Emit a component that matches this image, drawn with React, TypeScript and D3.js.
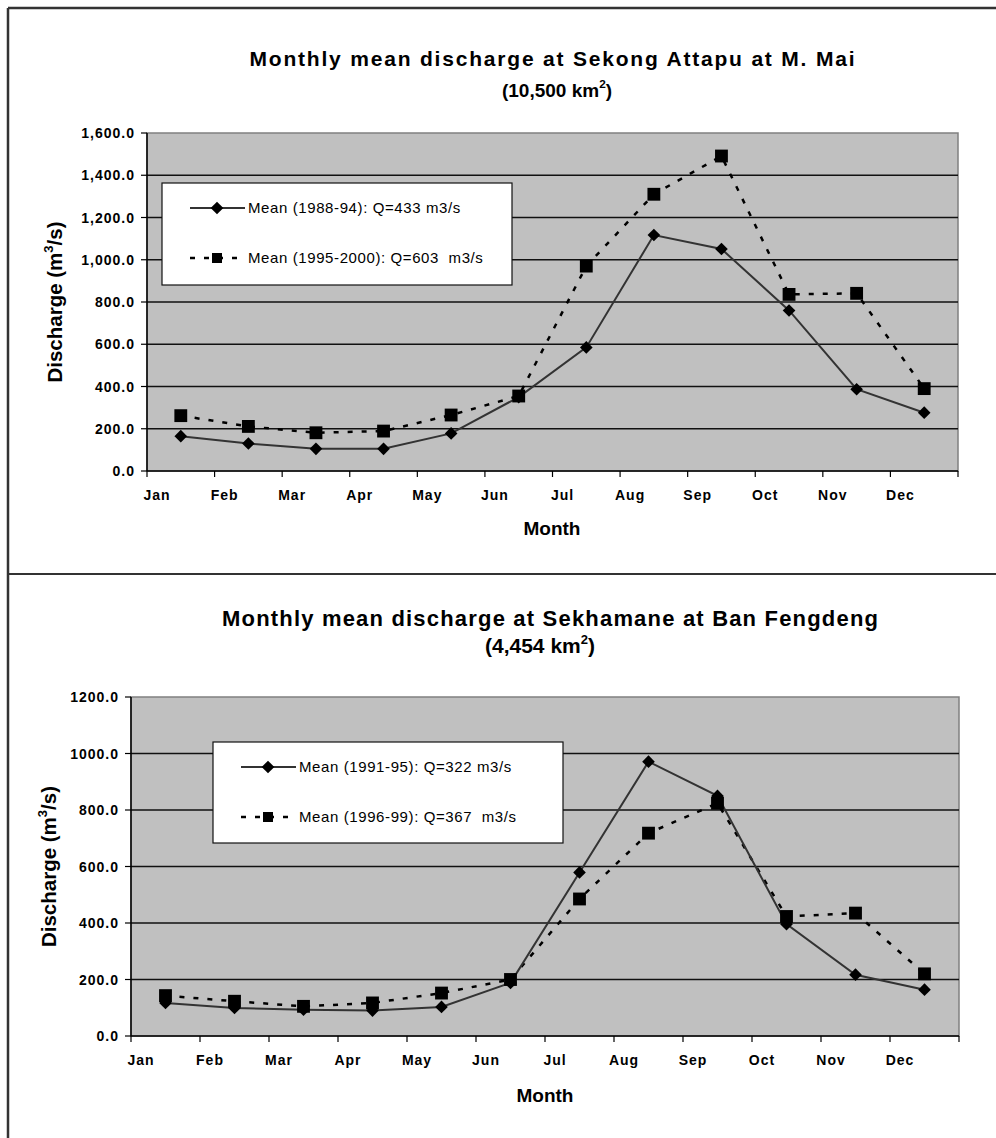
import React from "react";
import * as d3 from "d3";

const months = ["Jan", "Feb", "Mar", "Apr", "May", "Jun", "Jul", "Aug", "Sep", "Oct", "Nov", "Dec"];

// Sekong Attapu at M. Mai
const sekongMean8894 = [165, 130, 105, 105, 178, 350, 585, 1117, 1051, 760, 387, 276];
const sekongMean9500 = [262, 211, 181, 189, 265, 355, 970, 1310, 1491, 836, 841, 390];
const sekongTicks = [0, 200, 400, 600, 800, 1000, 1200, 1400, 1600];
const sekongLegend = ["Mean (1988-94): Q=433 m3/s", "Mean (1995-2000): Q=603  m3/s"];

// Sekhamane at Ban Fengdeng
const sekhamaneMean9195 = [117, 99, 93, 90, 103, 188, 579, 971, 850, 396, 217, 164];
const sekhamaneMean9699 = [143, 123, 105, 117, 152, 200, 485, 718, 824, 423, 435, 220];
const sekhamaneTicks = [0, 200, 400, 600, 800, 1000, 1200];
const sekhamaneLegend = ["Mean (1991-95): Q=322 m3/s", "Mean (1996-99): Q=367  m3/s"];

const FONT = "'Liberation Sans', Arial, Helvetica, sans-serif";

interface ChartProps {
  title: string;
  area: string;
  solid: number[];
  dashed: number[];
  ticks: number[];
  tickFormat: (v: number) => string;
  legend: string[];
  plot: { x0: number; x1: number; y0: number; y1: number };
  box: { x: number; y: number; w: number; h: number };
  titleY: number;
  titleX: number;
  titleLen: number;
  titleSize: number;
  subX: number;
  subY: number;
  subSize: number;
  yLabelX: number;
  monthY: number;
  monthX: number;
}

const diamond = d3.symbol().type(d3.symbolSquare).size(80)();
const square = d3.symbol().type(d3.symbolSquare).size(165)();
const legendSquare = d3.symbol().type(d3.symbolSquare).size(100)();

function Chart(p: ChartProps) {
  const { plot, box } = p;
  const x = d3.scaleLinear().domain([0, 12]).range([plot.x0, plot.x1]);
  const y = d3
    .scaleLinear()
    .domain([0, d3.max(p.ticks) as number])
    .range([plot.y1, plot.y0]);

  // points sit in the middle of each month band
  const line = d3
    .line<number>()
    .x((_, i) => x(i + 0.5))
    .y((d) => y(d));

  const monthTicks = d3.range(13);
  const rows = [box.y + 25, box.y + 75];
  const yMid = (plot.y0 + plot.y1) / 2;

  return (
    <g fontFamily={FONT}>
      <text
        x={p.titleX}
        y={p.titleY}
        textAnchor="middle"
        fontSize={p.titleSize}
        fontWeight="bold"
        textLength={p.titleLen}
        lengthAdjust="spacing"
      >
        {p.title}
      </text>
      <text x={p.subX} y={p.subY} textAnchor="middle" fontSize={p.subSize} fontWeight="bold">
        {p.area}
        <tspan fontSize={p.subSize * 0.62} dy={-p.subSize * 0.45}>
          2
        </tspan>
        <tspan dy={p.subSize * 0.45}>)</tspan>
      </text>

      {/* plot area */}
      <rect
        x={plot.x0}
        y={plot.y0}
        width={plot.x1 - plot.x0}
        height={plot.y1 - plot.y0}
        fill="#c0c0c0"
        stroke="#808080"
        strokeWidth={1.5}
      />
      {p.ticks
        .filter((t) => t > 0 && t < (d3.max(p.ticks) as number))
        .map((t) => (
          <line key={t} x1={plot.x0} x2={plot.x1} y1={y(t)} y2={y(t)} stroke="#111" strokeWidth={1.3} />
        ))}

      {/* axes */}
      <line x1={plot.x0} x2={plot.x0} y1={plot.y0} y2={plot.y1} stroke="#000" strokeWidth={1.5} />
      <line x1={plot.x0} x2={plot.x1} y1={plot.y1} y2={plot.y1} stroke="#000" strokeWidth={1.5} />
      {p.ticks.map((t) => (
        <g key={t}>
          <line x1={plot.x0 - 6} x2={plot.x0} y1={y(t)} y2={y(t)} stroke="#000" strokeWidth={1.2} />
          <text
            x={plot.x0 - 12}
            y={y(t)}
            dy="0.36em"
            textAnchor="end"
            fontSize={14}
            fontWeight="bold"
            letterSpacing={1}
          >
            {p.tickFormat(t)}
          </text>
        </g>
      ))}
      {monthTicks.map((i) => (
        <line key={i} x1={x(i)} x2={x(i)} y1={plot.y1} y2={plot.y1 + 6} stroke="#000" strokeWidth={1.2} />
      ))}
      {months.map((m, i) => (
        <text
          key={m}
          x={x(i) + 10}
          y={plot.y1 + 29}
          textAnchor="middle"
          fontSize={14}
          fontWeight="bold"
          letterSpacing={1}
        >
          {m}
        </text>
      ))}

      <text
        transform={`translate(${p.yLabelX},${yMid}) rotate(-90)`}
        textAnchor="middle"
        dy="0.35em"
        fontSize={20.5}
        fontWeight="bold"
      >
        Discharge (m
        <tspan fontSize={13} dy={-9}>
          3
        </tspan>
        <tspan dy={9}>/s)</tspan>
      </text>
      <text x={p.monthX} y={p.monthY} textAnchor="middle" fontSize={19} fontWeight="bold">
        Month
      </text>

      {/* legend */}
      <rect x={box.x} y={box.y} width={box.w} height={box.h} fill="#fff" stroke="#111" strokeWidth={1.2} />
      <line x1={box.x + 28} x2={box.x + 83} y1={rows[0]} y2={rows[0]} stroke="#333" strokeWidth={2} />
      <path d={diamond} transform={`translate(${box.x + 55},${rows[0]}) rotate(45)`} fill="#000" />
      <line
        x1={box.x + 28}
        x2={box.x + 83}
        y1={rows[1]}
        y2={rows[1]}
        stroke="#000"
        strokeWidth={2.5}
        strokeDasharray="5,9"
      />
      <path d={legendSquare} transform={`translate(${box.x + 55},${rows[1]})`} fill="#000" />
      {p.legend.map((l, i) => (
        <text
          key={l}
          x={box.x + 86}
          y={rows[i]}
          dy="0.35em"
          fontSize={15}
          letterSpacing={0.6}
          style={{ whiteSpace: "pre" }}
        >
          {l}
        </text>
      ))}

      {/* series */}
      <path d={line(p.dashed) ?? ""} fill="none" stroke="#000" strokeWidth={2.5} strokeDasharray="5,9" />
      <path d={line(p.solid) ?? ""} fill="none" stroke="#333" strokeWidth={2} />
      {p.dashed.map((v, i) => (
        <path key={`s${i}`} d={square} transform={`translate(${x(i + 0.5)},${y(v)})`} fill="#000" />
      ))}
      {p.solid.map((v, i) => (
        <path key={`d${i}`} d={diamond} transform={`translate(${x(i + 0.5)},${y(v)}) rotate(45)`} fill="#000" />
      ))}
    </g>
  );
}

export default function App() {
  return (
    <svg
      width={996}
      height={1138}
      style={{ position: "absolute", left: 0, top: 0, background: "#fff" }}
    >
      <Chart
        title="Monthly mean discharge at Sekong Attapu at M. Mai"
        area="(10,500 km"
        solid={sekongMean8894}
        dashed={sekongMean9500}
        ticks={sekongTicks}
        tickFormat={d3.format(",.1f")}
        legend={sekongLegend}
        plot={{ x0: 147, x1: 958, y0: 133, y1: 471 }}
        box={{ x: 162, y: 183, w: 350, h: 102 }}
        titleX={552}
        titleY={66}
        titleLen={605}
        titleSize={21}
        subX={557}
        subY={97}
        subSize={19}
        yLabelX={55}
        monthX={552}
        monthY={535}
      />
      <Chart
        title="Monthly mean discharge at Sekhamane at Ban Fengdeng"
        area="(4,454 km"
        solid={sekhamaneMean9195}
        dashed={sekhamaneMean9699}
        ticks={sekhamaneTicks}
        tickFormat={d3.format(".1f")}
        legend={sekhamaneLegend}
        plot={{ x0: 131, x1: 959, y0: 697, y1: 1036 }}
        box={{ x: 213, y: 742, w: 350, h: 101 }}
        titleX={550}
        titleY={626}
        titleLen={656}
        titleSize={22}
        subX={540}
        subY={653}
        subSize={21}
        yLabelX={49}
        monthX={545}
        monthY={1102}
      />

      {/* outer frame */}
      <line x1={8} x2={996} y1={8} y2={8} stroke="#333" strokeWidth={2.5} />
      <line x1={8} x2={8} y1={8} y2={1138} stroke="#333" strokeWidth={2.5} />
      <line x1={8} x2={996} y1={574} y2={574} stroke="#333" strokeWidth={2} />
    </svg>
  );
}
